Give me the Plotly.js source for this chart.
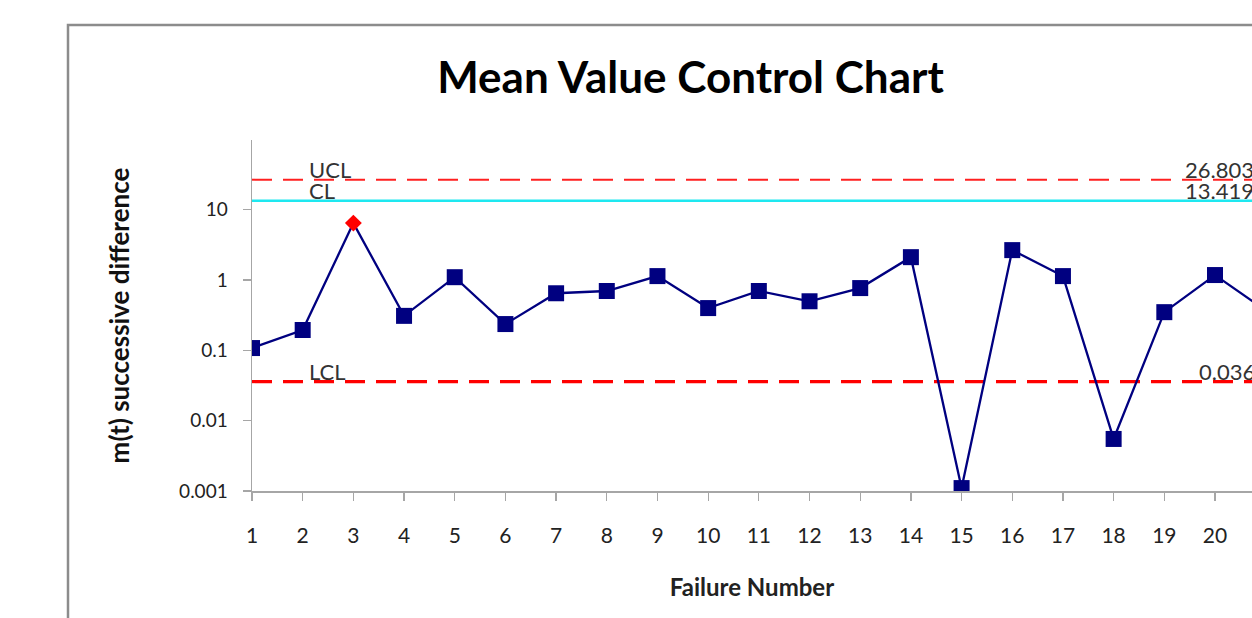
<!DOCTYPE html>
<html>
<head>
<meta charset="utf-8">
<script src="https://cdn.plot.ly/plotly-3.0.1.min.js"></script>
<style>html,body{margin:0;padding:0;background:#fff;}#chart{width:1252px;height:618px;}</style>
</head>
<body>
<div id="chart"></div>
<script>
// Data
const failureNumbers = [1,2,3,4,5,6,7,8,9,10,11,12,13,14,15,16,17,18,19,20,21];
const mtDiff = [0.108,0.195,6.47,0.31,1.10,0.237,0.65,0.70,1.14,0.40,0.70,0.50,0.77,2.12,0.0011,2.67,1.14,0.0055,0.35,1.18,0.37];
const UCL = 26.803;
const CL = 13.419;
const LCL = 0.036;
const yTickVals = [0.001,0.01,0.1,1,10];
const yTickText = ['0.001','0.01','0.1','1','10'];
const outOfControlIndex = 2; // point 3 marked differently

const uclLine = failureNumbers.map(() => UCL);
const clLine = failureNumbers.map(() => CL);
const lclLine = failureNumbers.map(() => LCL);

const markerColors = failureNumbers.map((_, i) => i === outOfControlIndex ? '#ff0000' : '#000080');
const markerSymbols = failureNumbers.map((_, i) => i === outOfControlIndex ? 'diamond' : 'square');
const markerSizes = failureNumbers.map((_, i) => i === outOfControlIndex ? 13 : 16);

const FONT = 'Lato, "Open Sans", sans-serif';

const traces = [
  {x: failureNumbers, y: uclLine, mode: 'lines', line: {color: '#ff2020', width: 2, dash: '20px,11px'}, hoverinfo: 'skip'},
  {x: failureNumbers, y: clLine, mode: 'lines', line: {color: '#1ee8f0', width: 2.5}, hoverinfo: 'skip'},
  {x: failureNumbers, y: lclLine, mode: 'lines', line: {color: '#ff0000', width: 3.2, dash: '20px,11px'}, hoverinfo: 'skip'},
  {x: failureNumbers, y: mtDiff, mode: 'lines+markers', line: {color: '#000080', width: 2.3},
   marker: {color: markerColors, symbol: markerSymbols, size: markerSizes, opacity: 1, line: {width: 0}}, opacity: 1}
];

const labelFont = {family: FONT, size: 22, color: '#333'};
const layout = {
  width: 1252, height: 618,
  margin: {l: 252, r: 0, t: 140, b: 127, pad: 0},
  paper_bgcolor: '#ffffff', plot_bgcolor: '#ffffff',
  showlegend: false,
  title: {text: 'Mean Value Control Chart', font: {family: FONT, size: 44, color: '#000', weight: 'bold'},
          x: 0.4385, xref: 'paper', xanchor: 'center', y: 0.875, yref: 'container', yanchor: 'middle'},
  xaxis: {
    type: 'linear', range: [1, 20.73], tickvals: failureNumbers, ticktext: failureNumbers.map(String),
    showgrid: false, zeroline: false, showline: true, linecolor: '#a6a6a6', linewidth: 1.5,
    ticks: 'outside', ticklen: 8, tickcolor: '#a6a6a6', tickwidth: 1.3,
    tickfont: {family: FONT, size: 21, color: '#222'}, ticklabelstandoff: 17,
    title: {text: 'Failure Number', font: {family: FONT, size: 24, color: '#222', weight: 'bold'}, standoff: 33},
    fixedrange: true
  },
  yaxis: {
    type: 'log', range: [-3, 1.993], tickvals: yTickVals, ticktext: yTickText,
    showgrid: false, zeroline: false, showline: true, linecolor: '#a6a6a6', linewidth: 1.5,
    ticks: 'outside', ticklen: 8, tickcolor: '#a6a6a6', tickwidth: 1.3,
    tickfont: {family: FONT, size: 19, color: '#222'}, ticklabelstandoff: 11,
    title: {text: 'm(t) successive difference', font: {family: FONT, size: 26, color: '#111', weight: 'bold'}, standoff: 42},
    fixedrange: true
  },
  annotations: [
    {x: 2.08, y: Math.log10(UCL), xref: 'x', yref: 'y', text: 'UCL', showarrow: false, xanchor: 'left', yanchor: 'bottom', yshift: -5, font: labelFont},
    {x: 2.08, y: Math.log10(CL), xref: 'x', yref: 'y', text: 'CL', showarrow: false, xanchor: 'left', yanchor: 'bottom', yshift: -5, font: labelFont},
    {x: 2.08, y: Math.log10(LCL), xref: 'x', yref: 'y', text: 'LCL', showarrow: false, xanchor: 'left', yanchor: 'bottom', yshift: -5, font: labelFont},
    {x: 19.37, y: Math.log10(UCL), xref: 'x', yref: 'y', text: UCL.toFixed(3), showarrow: false, xanchor: 'left', yanchor: 'bottom', yshift: -5, font: labelFont},
    {x: 19.37, y: Math.log10(CL), xref: 'x', yref: 'y', text: CL.toFixed(3), showarrow: false, xanchor: 'left', yanchor: 'bottom', yshift: -5, font: labelFont},
    {x: 19.65, y: Math.log10(LCL), xref: 'x', yref: 'y', text: LCL.toFixed(3), showarrow: false, xanchor: 'left', yanchor: 'bottom', yshift: -5, font: labelFont}
  ],
  shapes: [
    {type: 'rect', xref: 'paper', yref: 'paper', x0: -0.184, x1: 1.2, y0: -0.6, y1: 1.3276,
     line: {color: '#8c8c8c', width: 2.5}, fillcolor: 'rgba(0,0,0,0)', layer: 'below'}
  ]
};

Plotly.newPlot('chart', traces, layout, {staticPlot: true, displayModeBar: false});
</script>
</body>
</html>
